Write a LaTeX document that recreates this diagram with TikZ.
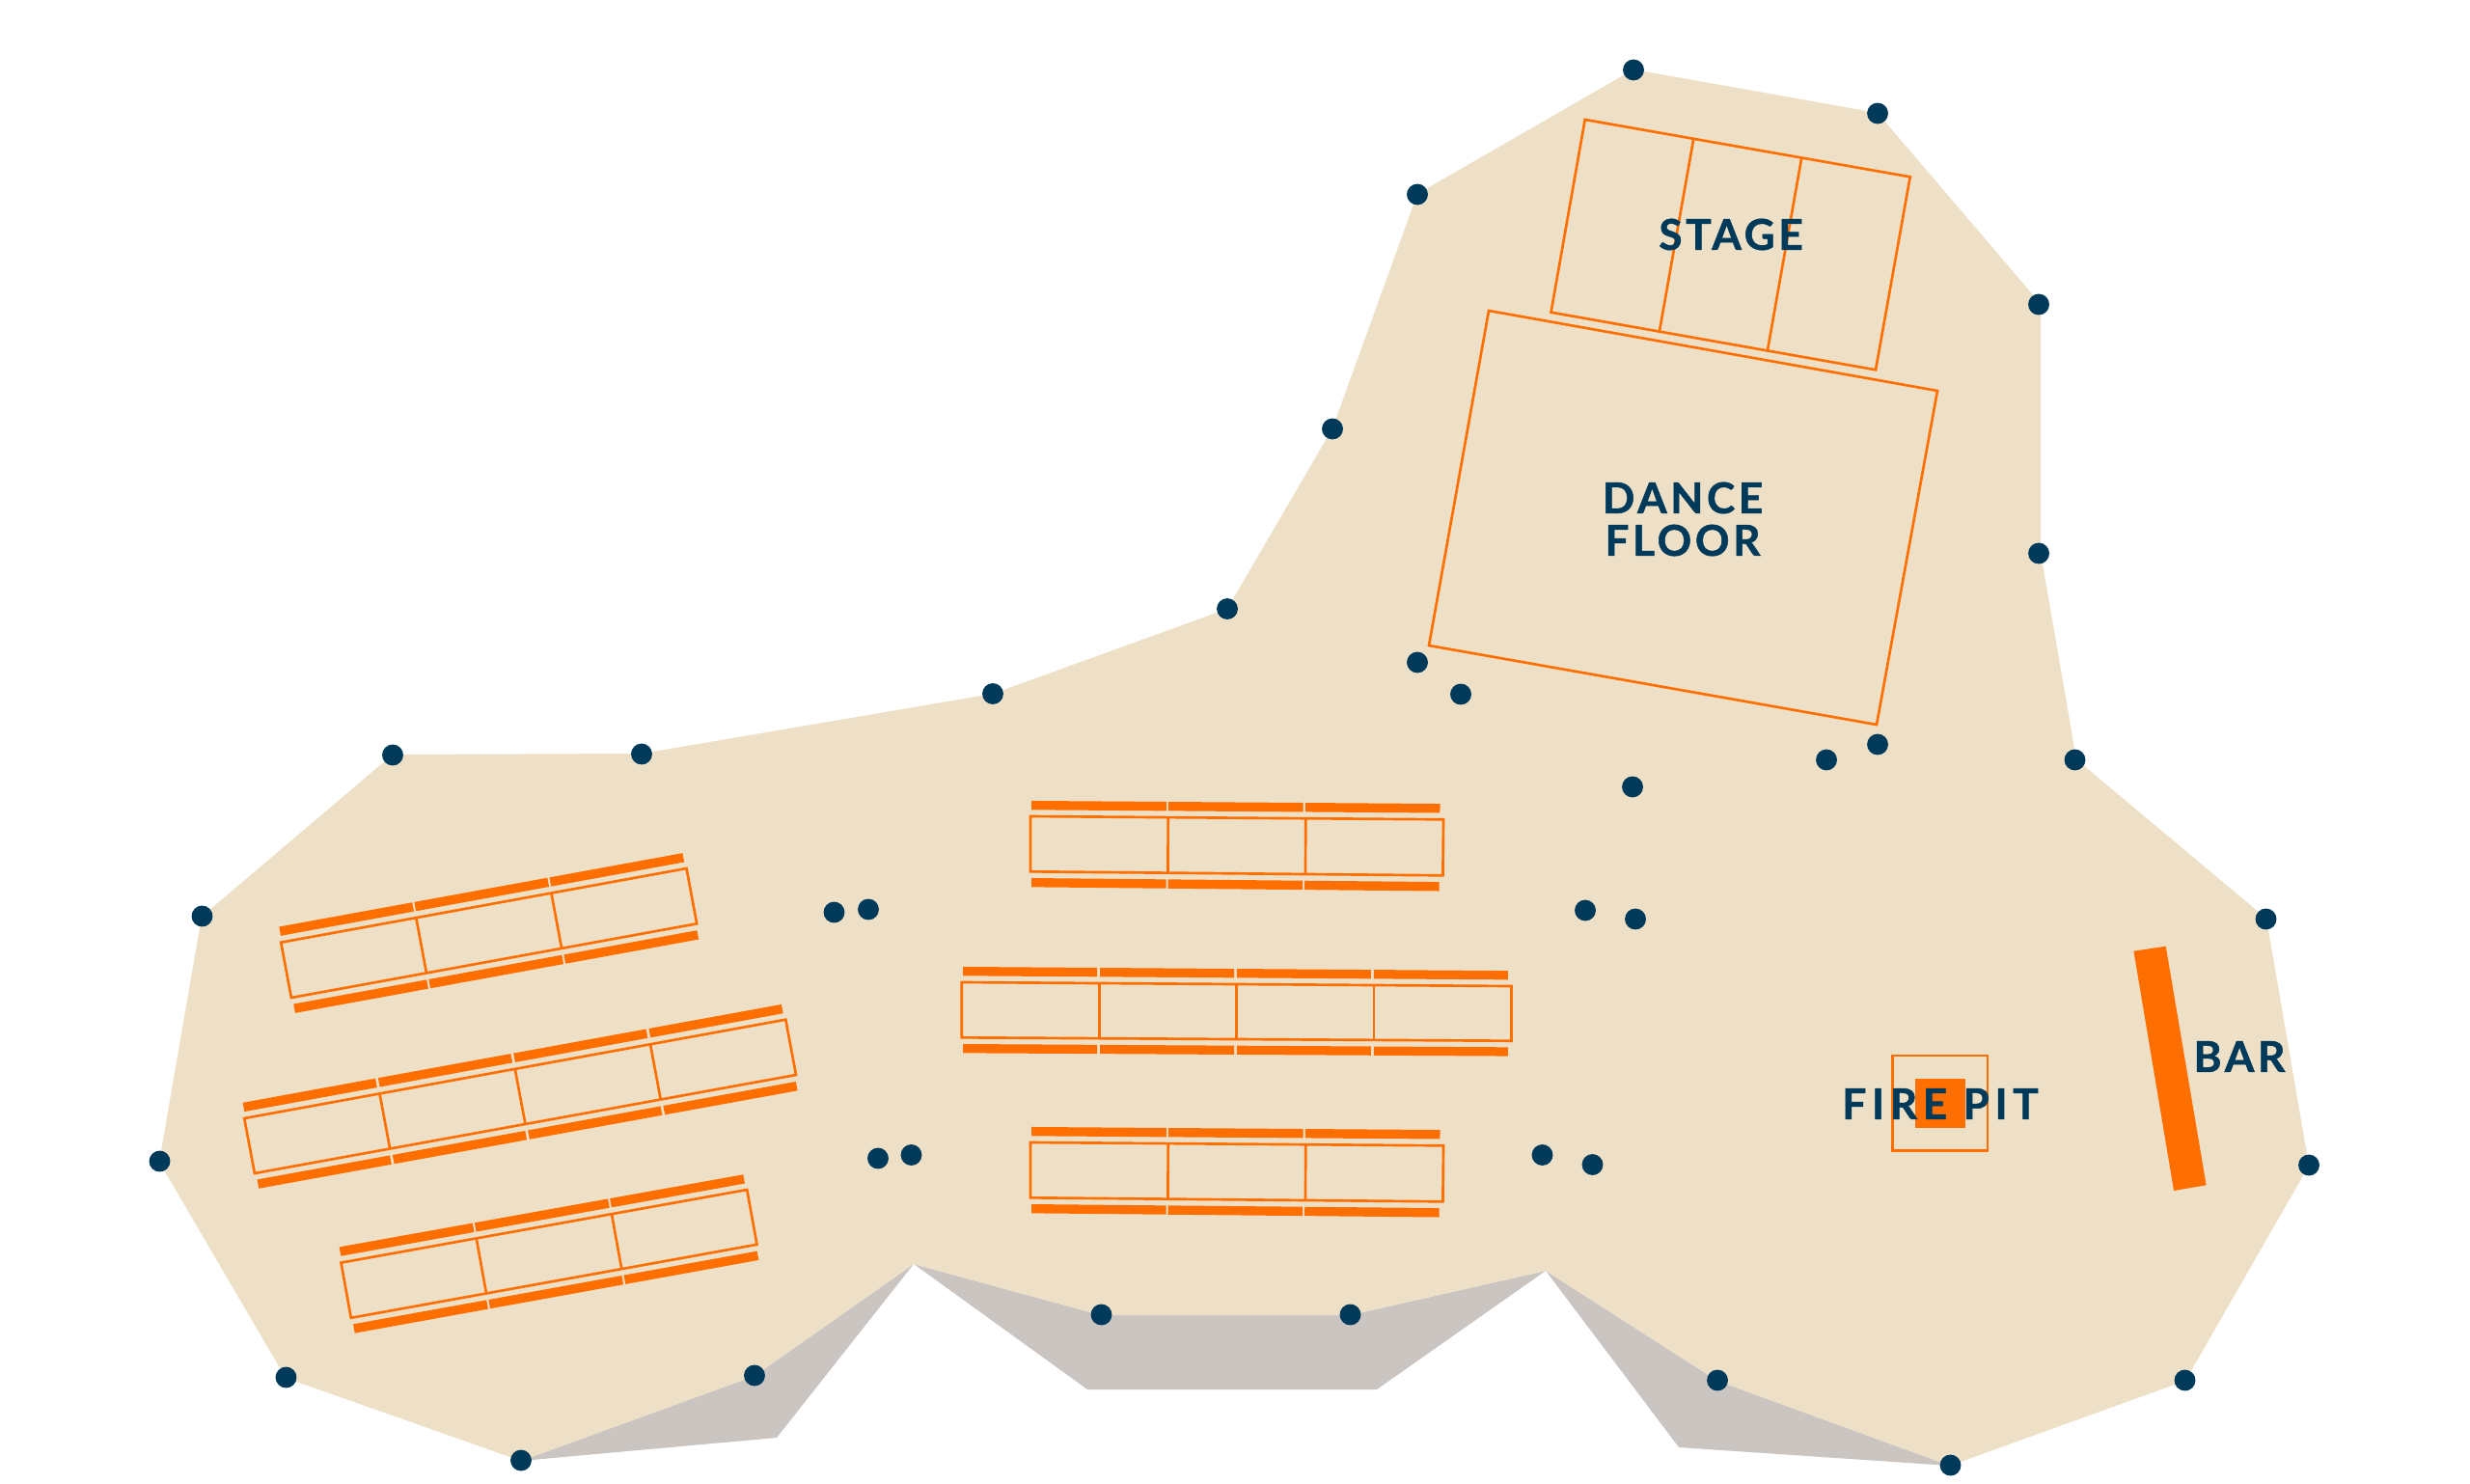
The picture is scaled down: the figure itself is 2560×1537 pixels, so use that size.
\documentclass[tikz,border=0pt]{standalone}
\usepackage{fontspec}
\usetikzlibrary{calc}
\setmainfont{Lato}
\newfontfamily\labelfont[LetterSpace=8.5,BoldFeatures={FakeBold=1.2,LetterSpace=8.5}]{Lato}
\newfontfamily\widelabelfont[LetterSpace=13,BoldFeatures={FakeBold=1.2,LetterSpace=13}]{Lato}
\definecolor{floorcol}{HTML}{EEE0C7}
\definecolor{shadowcol}{HTML}{CBC5C2}
\definecolor{orangecol}{HTML}{FF6F00}
\definecolor{navycol}{HTML}{003A5A}
\tikzset{
  floorarea/.style={fill=floorcol},
  shadowarea/.style={fill=shadowcol},
  outline/.style={draw=orangecol,line width=1pt},
  solidpart/.style={fill=orangecol},
  post/.style={circle,fill=navycol,inner sep=0pt,minimum size=8.2pt},
  maplabel/.style={text=navycol,font=\labelfont\bfseries\fontsize{16.5}{20}\selectfont,align=center,inner sep=0pt},
  widelabel/.style={text=navycol,font=\widelabelfont\bfseries\fontsize{16.5}{20}\selectfont,align=center,inner sep=0pt},
}
% #1..#4 corners A B C D, #5 seats, #6 inset of strip end
\newcommand\benchrow[6]{%
  \coordinate (bA) at (#1);\coordinate (bB) at (#2);\coordinate (bC) at (#3);\coordinate (bD) at (#4);
  \draw[outline] (bA)--(bB)--(bC)--(bD)--cycle;
  \foreach \k in {1,...,#5}{%
    \ifnum\k<#5\relax
      \draw[outline] ($(bA)!\k/#5!(bB)$) -- ($(bD)!\k/#5!(bC)$);
    \fi
  }
  \coordinate (pA) at ($(bA)!-0.28!(bD)$);\coordinate (qA) at ($(bB)!-0.28!(bC)$);
  \coordinate (pB) at ($(bA)!-0.117!(bD)$);\coordinate (qB) at ($(bB)!-0.117!(bC)$);
  \coordinate (pC) at ($(bD)!-0.117!(bA)$);\coordinate (qC) at ($(bC)!-0.117!(bB)$);
  \coordinate (pD) at ($(bD)!-0.28!(bA)$);\coordinate (qD) at ($(bC)!-0.28!(bB)$);
  \foreach \k in {1,...,#5}{%
    \pgfmathsetmacro\ts{(\k-1)*(1-#6)/#5+0.0025}
    \pgfmathsetmacro\te{\k*(1-#6)/#5-0.0025}
    \fill[solidpart] ($(pA)!\ts!(qA)$)--($(pA)!\te!(qA)$)--($(pB)!\te!(qB)$)--($(pB)!\ts!(qB)$)--cycle;
    \fill[solidpart] ($(pC)!\ts!(qC)$)--($(pC)!\te!(qC)$)--($(pD)!\te!(qD)$)--($(pD)!\ts!(qD)$)--cycle;
  }
}
\begin{document}
\begin{tikzpicture}[x=0.375pt,y=-0.375pt]
\useasboundingbox (0,0) rectangle (2560,1537);
% shadows
\fill[shadowarea] (540,1514)--(805,1490)--(947,1310)--(782,1426)--cycle;
\fill[shadowarea] (947,1310)--(1127,1440)--(1427,1440)--(1602,1317)--(1399,1363)--(1141,1363)--cycle;
\fill[shadowarea] (1602,1317)--(1740,1500)--(2021,1519)--(1780,1431)--cycle;
% floor
\fill[floorarea] (1693,72)--(1946,117)--(2115,315)--(2115,573)--(2152,787)--(2349,952)--(2393,1208)--(2265,1431)--(2021,1519)--(1780,1431)--(1602,1317)--(1399,1363)--(1141,1363)--(947,1310)--(782,1426)--(540,1514)--(296,1428)--(165,1204)--(209,950)--(407,782)--(665,781)--(1029,719)--(1272,631)--(1381,444)--(1469,201)--cycle;
% stage
\draw[outline] (1642.7,124)--(1979.7,183.3)--(1944,383.3)--(1607.5,323.7)--cycle;
\draw[outline] (1755.2,144.3)--(1720,342.7);
\draw[outline] (1867.2,163.7)--(1832,362.7);
% dance floor
\draw[outline] (1543,322)--(2008,405)--(1945,751)--(1481,669)--cycle;
% tables
\benchrow{291.2,976.7}{711.5,900}{722.2,957.3}{301.9,1034}{3}{0}
\benchrow{253.2,1159}{814.3,1056.7}{825,1114}{263.9,1216}{4}{0}
\benchrow{353.5,1308.6}{774.2,1233}{784.5,1289.8}{363.8,1365.8}{3}{0}
\benchrow{1068,846}{1496,849.3}{1495.4,907.3}{1068,903.3}{3}{0.006}
\benchrow{996.8,1018}{1566.5,1022}{1566.5,1078.7}{996.8,1075.3}{4}{0.004}
\benchrow{1068,1184}{1496,1187.3}{1495.4,1245.3}{1068,1241.3}{3}{0.006}
% bar
\fill[solidpart] (2211.4,985.7)--(2244.7,980.7)--(2286.6,1228.3)--(2253,1234)--cycle;
% fire pit
\draw[outline] (1961.4,1094)rectangle(2060,1192.7);
\fill[solidpart] (1985.4,1118.3)rectangle(2036.5,1169.3);
% posts
\foreach \n/\px/\py in {a/1693/72.5,b/1946/117.5,c/2113/315.5,d/2113/573.5,e/2150.5/787.5,f/2348.5/952.5,g/2393/1207.5,h/2264.5/1430.5,i/2021.5/1518.5,j/1780/1430.5,k/1399.5/1362.5,l/1141.5/1362.5,m/782/1425.5,n/540/1513.5,o/296.5/1427.5,p/165.5/1203.5,q/209.5/949.5,r/407/782.5,s/665/781.5,t/1029/719,u/1272/631,v/1381/444.5,w/1469/201.5,
  x/1469/686.5,y/1514/719.5,z/1692/815.5,aa/1893/787.5,ab/1946/771.5,ac/864.5/945.5,ad/900/942.5,ae/1643/943.5,af/1695/952.5,ag/910/1200.5,ah/944.5/1197,ai/1598.5/1197,aj/1650.5/1207}
  \node[post] (post\n) at (\px,\py) {};
% labels
\node[maplabel] (stage) at (1794,243) {STAGE};
\node[maplabel] (dance) at (1744,516) {DANCE};
\node[maplabel] (dfloor) at (1744,560) {FLOOR};
\node[widelabel] (firepit) at (2011,1144) {FIRE PIT};
\node[maplabel] (barlabel) at (2321,1095) {BAR};
\end{tikzpicture}
\end{document}
